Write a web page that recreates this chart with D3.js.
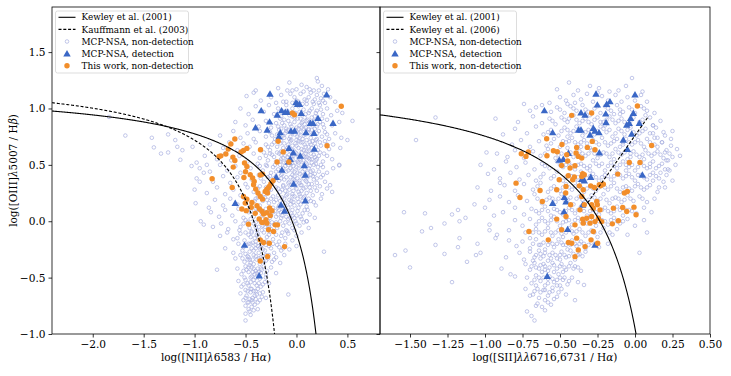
<!DOCTYPE html>
<html>
<head>
<meta charset="utf-8">
<script src="https://d3js.org/d3.v7.min.js"></script>
<style>
    body { margin: 0; background: #fff; }
    svg { display: block; font-family: "DejaVu Serif", serif; }
</style>
</head>
<body>
<div id="chart"></div>
<script>
// ---- data: [x, y] = [log line ratio, log([OIII]/Hb)] ----

// MCP-NSA, non-detection, BPT [NII] panel (outer / sparse part)
const niiMcp = [
    [-0.07,1.23],[0.2,1.27],[0.21,1.24],[0.05,1.21],[-0.18,1.18],[0.17,1.16],[0.31,1.17],[-0.04,1.16],[-0.4,1.16],[-0.42,1.14],[0.1,1.19],[0.25,1.2],
    [-0.49,1.11],[-0.35,1.07],[-0.25,1.1],[-0.15,1.12],[-0.1,1.06],[-0.02,1.1],[0.04,1.13],[0.08,1.08],[0.12,1.1],[0.16,1.06],[0.2,1.12],[0.24,1.09],[0.28,1.05],[0.33,1.1],[0.38,1.06],[-0.2,1.05],[0.0,1.07],[0.14,1.14],[0.22,1.05],[-0.06,1.13],
    [-0.55,1.0],[-0.47,0.95],[-0.4,1.02],[-0.32,0.97],[-0.27,1.03],[-0.22,0.95],[-0.18,1.0],[-0.13,0.97],[-0.1,1.03],[-0.07,0.94],[-0.04,1.0],[-0.01,0.96],[0.02,1.02],[0.05,0.95],[0.07,0.99],[0.1,1.04],[0.12,0.96],[0.15,1.0],[0.18,0.93],[0.2,0.98],[0.23,1.03],[0.26,0.95],[0.3,1.0],[0.34,0.94],[0.4,0.98],[0.45,0.96],[0.08,0.92],[-0.02,0.92],[0.17,1.04],[-0.15,0.93],
    [-0.6,0.88],[-0.5,0.85],[-0.43,0.9],[-0.37,0.84],[-0.3,0.89],[-0.25,0.83],[-0.2,0.87],[-0.16,0.91],[-0.12,0.85],[-0.08,0.89],[-0.05,0.84],[-0.02,0.88],[0.01,0.91],[0.03,0.85],[0.06,0.88],[0.09,0.83],[0.11,0.9],[0.14,0.86],[0.17,0.89],[0.2,0.84],[0.23,0.88],[0.27,0.83],[0.3,0.9],[0.35,0.85],[0.42,0.88],[0.55,0.89],[0.0,0.83],[0.12,0.82],[-0.1,0.82],[0.25,0.91],
    [-0.75,0.76],[-0.62,0.8],[-0.55,0.74],[-0.48,0.78],[-0.42,0.73],[-0.36,0.8],[-0.3,0.75],[-0.26,0.79],[-0.21,0.73],[-0.17,0.81],[-0.13,0.76],[-0.1,0.8],[-0.07,0.73],[-0.04,0.78],[-0.01,0.81],[0.01,0.75],[0.04,0.79],[0.06,0.73],[0.09,0.77],[0.12,0.81],[0.14,0.74],[0.17,0.78],[0.19,0.72],[0.22,0.8],[0.25,0.75],[0.28,0.79],[0.32,0.73],[0.38,0.78],[0.44,0.74],[-0.05,0.72],[0.07,0.82],[0.0,0.72],[-0.15,0.72],
    [-1.84,0.925],[-1.68,0.76],[-1.42,0.74],[-1.4,0.655],[-1.33,0.6],[-1.26,0.61],[-1.26,0.77],[-1.19,0.72],[-1.17,0.66],[-1.12,0.63],[-1.14,0.545],[-1.02,0.66],[-0.98,0.52],[-1.03,0.49],[-0.88,0.5],[-0.91,0.43],[-0.95,0.35],
    [-0.85,0.68],[-0.72,0.65],[-0.66,0.7],[-0.58,0.63],[-0.52,0.69],[-0.46,0.66],[-0.4,0.7],[-0.35,0.64],[-0.3,0.68],[-0.26,0.63],[-0.22,0.7],[-0.19,0.66],[-0.15,0.62],[-0.12,0.69],[-0.09,0.65],[-0.06,0.71],[-0.03,0.63],[0.0,0.67],[0.02,0.71],[0.05,0.64],[0.08,0.68],[0.1,0.62],[0.13,0.7],[0.15,0.65],[0.18,0.69],[0.21,0.63],[0.24,0.67],[0.28,0.71],[0.32,0.64],[0.36,0.68],[0.43,0.65],[-0.04,0.67],[0.06,0.7],[-0.1,0.63],[0.12,0.66],
    [-0.9,0.58],[-0.78,0.55],[-0.7,0.6],[-0.64,0.54],[-0.56,0.58],[-0.48,0.53],[-0.42,0.6],[-0.36,0.56],[-0.32,0.61],[-0.28,0.54],[-0.24,0.59],[-0.2,0.53],[-0.17,0.6],[-0.13,0.56],[-0.1,0.52],[-0.07,0.59],[-0.04,0.55],[-0.01,0.61],[0.01,0.53],[0.04,0.58],[0.07,0.54],[0.09,0.6],[0.12,0.56],[0.15,0.52],[0.17,0.59],[0.2,0.55],[0.23,0.61],[0.26,0.53],[0.3,0.58],[0.35,0.55],[0.42,0.5],[-0.06,0.62],[0.02,0.57],[-0.15,0.55],[0.1,0.57],[-0.22,0.57],
    [-0.95,0.47],[-0.85,0.44],[-0.75,0.5],[-0.68,0.45],[-0.6,0.49],[-0.55,0.43],[-0.45,0.47],[-0.38,0.51],[-0.33,0.45],[-0.29,0.49],[-0.25,0.43],[-0.21,0.5],[-0.18,0.46],[-0.14,0.42],[-0.11,0.49],[-0.08,0.45],[-0.05,0.51],[-0.02,0.44],[0.0,0.48],[0.03,0.42],[0.05,0.5],[0.08,0.46],[0.11,0.43],[0.13,0.49],[0.16,0.45],[0.19,0.51],[0.22,0.44],[0.26,0.48],[0.3,0.43],[0.36,0.47],[-0.12,0.52],[0.02,0.52],[-0.06,0.47],[0.1,0.51],[-0.2,0.44],
    [-0.98,0.38],[-0.82,0.35],[-0.72,0.4],[-0.65,0.34],[-0.58,0.39],[-0.5,0.33],[-0.44,0.37],[-0.37,0.41],[-0.32,0.35],[-0.28,0.39],[-0.24,0.33],[-0.2,0.4],[-0.17,0.36],[-0.13,0.32],[-0.1,0.39],[-0.07,0.35],[-0.04,0.41],[-0.01,0.34],[0.01,0.38],[0.04,0.32],[0.06,0.4],[0.09,0.36],[0.12,0.33],[0.14,0.41],[0.17,0.37],[0.2,0.34],[0.24,0.39],[0.28,0.35],[0.33,0.32],[0.35,0.26],[-0.15,0.41],[-0.03,0.37],[0.08,0.41],[-0.22,0.36],
    [-1.0,0.28],[-0.88,0.25],[-0.78,0.3],[-0.7,0.24],[-0.62,0.28],[-0.55,0.23],[-0.48,0.3],[-0.42,0.26],[-0.36,0.31],[-0.32,0.24],[-0.27,0.28],[-0.23,0.22],[-0.2,0.3],[-0.16,0.26],[-0.13,0.31],[-0.1,0.23],[-0.07,0.28],[-0.04,0.24],[-0.01,0.31],[0.02,0.26],[0.04,0.22],[0.07,0.29],[0.1,0.25],[0.13,0.3],[0.16,0.23],[0.2,0.27],[0.25,0.24],[0.3,0.29],[-0.11,0.27],[-0.05,0.32],[0.05,0.32],[-0.18,0.23],
    [-0.99,0.16],[-0.86,0.12],[-0.8,0.19],[-0.72,0.14],[-0.65,0.2],[-0.58,0.15],[-0.52,0.21],[-0.46,0.13],[-0.41,0.18],[-0.36,0.14],[-0.31,0.21],[-0.27,0.16],[-0.23,0.12],[-0.2,0.19],[-0.17,0.14],[-0.14,0.21],[-0.11,0.16],[-0.08,0.12],[-0.05,0.18],[-0.02,0.14],[0.01,0.2],[0.04,0.15],[0.07,0.21],[0.1,0.13],[0.14,0.18],[0.19,0.14],[0.24,0.2],[-0.25,0.2],[-0.13,0.12],[-0.04,0.22],[-0.38,0.21],
    [-0.94,0.0],[-0.91,-0.03],[-0.84,0.08],[-0.76,0.04],[-0.7,0.1],[-0.63,0.05],[-0.57,0.11],[-0.52,0.03],[-0.47,0.08],[-0.42,0.04],[-0.38,0.1],[-0.34,0.06],[-0.3,0.11],[-0.26,0.03],[-0.23,0.08],[-0.2,0.04],[-0.17,0.1],[-0.14,0.05],[-0.11,0.11],[-0.08,0.02],[-0.05,0.07],[-0.02,0.03],[0.01,0.09],[0.04,0.04],[0.08,0.1],[0.1,0.0],[0.13,0.06],[0.18,0.03],[-0.28,0.07],[-0.12,0.08],[-0.44,0.12],
    [-0.82,-0.05],[-0.74,-0.02],[-0.67,-0.07],[-0.6,0.0],[-0.55,-0.05],[-0.5,0.01],[-0.46,-0.06],[-0.42,-0.02],[-0.39,-0.08],[-0.35,-0.01],[-0.31,-0.05],[-0.28,0.0],[-0.25,-0.07],[-0.22,-0.03],[-0.19,-0.06],[-0.16,0.0],[-0.13,-0.04],[-0.1,-0.08],[-0.07,-0.02],[-0.04,-0.06],[-0.01,0.0],[0.03,-0.04],[0.07,-0.01],[0.12,-0.06],[-0.37,-0.05],[-0.24,-0.01],[-0.48,-0.01],
    [-0.75,-0.13],[-0.68,-0.1],[-0.62,-0.16],[-0.58,-0.15],[-0.55,-0.11],[-0.51,-0.17],[-0.47,-0.12],[-0.44,-0.09],[-0.41,-0.15],[-0.38,-0.11],[-0.35,-0.17],[-0.32,-0.1],[-0.29,-0.14],[-0.26,-0.09],[-0.23,-0.16],[-0.2,-0.12],[-0.17,-0.18],[-0.14,-0.1],[-0.11,-0.15],[-0.08,-0.11],[-0.04,-0.17],[0.0,-0.13],[0.05,-0.1],[-0.4,-0.18],[-0.3,-0.18],
    [-0.7,-0.24],[-0.62,-0.28],[-0.57,-0.2],[-0.53,-0.26],[-0.49,-0.21],[-0.46,-0.27],[-0.43,-0.19],[-0.4,-0.24],[-0.37,-0.28],[-0.34,-0.21],[-0.31,-0.26],[-0.28,-0.19],[-0.25,-0.24],[-0.22,-0.28],[-0.19,-0.21],[-0.15,-0.26],[-0.11,-0.2],[-0.07,-0.25],[0.0,-0.22],[0.27,-0.27],[-0.44,-0.24],[-0.36,-0.24],
    [-0.6,-0.33],[-0.55,-0.3],[-0.51,-0.36],[-0.48,-0.31],[-0.45,-0.37],[-0.42,-0.3],[-0.39,-0.34],[-0.36,-0.38],[-0.33,-0.31],[-0.3,-0.35],[-0.27,-0.3],[-0.24,-0.36],[-0.2,-0.32],[-0.16,-0.37],[-0.12,-0.3],[-0.42,-0.38],[-0.48,-0.34],
    [-0.78,-0.43],[-0.58,-0.42],[-0.54,-0.47],[-0.5,-0.4],[-0.47,-0.45],[-0.44,-0.41],[-0.41,-0.47],[-0.38,-0.42],[-0.35,-0.46],[-0.32,-0.4],[-0.29,-0.44],[-0.25,-0.41],[-0.2,-0.46],[-0.46,-0.39],[-0.4,-0.44],
    [-0.57,-0.53],[-0.54,-0.58],[-0.51,-0.5],[-0.48,-0.55],[-0.45,-0.6],[-0.42,-0.52],[-0.39,-0.57],[-0.36,-0.51],[-0.33,-0.56],[-0.3,-0.5],[-0.27,-0.55],[-0.08,-0.65],[-0.44,-0.49],[-0.38,-0.6],
    [-0.55,-0.64],[-0.52,-0.7],[-0.49,-0.66],[-0.47,-0.72],[-0.45,-0.63],[-0.43,-0.68],[-0.41,-0.74],[-0.39,-0.65],[-0.36,-0.7],[-0.33,-0.63],[-0.3,-0.68],[-0.5,-0.75],[-0.44,-0.76],
    [-0.5,-0.82],[-0.46,-0.8],[-0.45,-0.83],[-0.5,-0.88],[-0.42,-0.79],[-0.38,-0.78],
    [0.42,0.495],[0.1,0.0],[0.5,0.72]
];

// MCP-NSA, non-detection, [NII] panel (dense core)
const niiMcpCore = [
    [-0.02,0.96],[0.03,0.97],[0.09,0.95],[0.13,0.98],[0.19,0.96],[-0.09,0.98],[0.24,0.99],
    [-0.14,0.87],[-0.06,0.86],[0.05,0.87],[0.08,0.86],[0.13,0.88],[0.16,0.85],[0.21,0.86],[-0.18,0.84],[0.26,0.86],
    [-0.19,0.77],[-0.11,0.78],[-0.02,0.77],[0.02,0.78],[0.07,0.76],[0.11,0.79],[0.15,0.77],[0.2,0.78],[-0.24,0.76],[0.3,0.77],
    [-0.24,0.68],[-0.16,0.69],[-0.08,0.68],[-0.01,0.69],[0.04,0.7],[0.09,0.66],[0.14,0.68],[0.19,0.66],[0.23,0.7],[-0.28,0.66],[0.3,0.68],
    [-0.26,0.6],[-0.19,0.61],[-0.15,0.59],[-0.09,0.57],[-0.03,0.58],[0.0,0.6],[0.05,0.61],[0.08,0.57],[0.14,0.6],[0.18,0.57],[0.22,0.58],[0.27,0.6],[-0.3,0.58],
    [-0.3,0.5],[-0.23,0.48],[-0.16,0.5],[-0.13,0.47],[-0.08,0.5],[-0.03,0.49],[0.02,0.47],[0.07,0.49],[0.12,0.47],[0.17,0.5],[0.21,0.48],[0.24,0.5],[-0.36,0.49],
    [-0.35,0.38],[-0.26,0.4],[-0.22,0.38],[-0.15,0.38],[-0.12,0.37],[-0.06,0.39],[-0.02,0.4],[0.03,0.36],[0.07,0.38],[0.11,0.39],[0.16,0.4],[0.2,0.38],[0.26,0.41],
    [-0.38,0.29],[-0.3,0.3],[-0.25,0.28],[-0.18,0.29],[-0.14,0.28],[-0.09,0.3],[-0.03,0.27],[0.0,0.29],[0.05,0.27],[0.09,0.3],[0.14,0.27],[0.18,0.3],[0.23,0.31],
    [-0.4,0.2],[-0.33,0.18],[-0.29,0.19],[-0.22,0.17],[-0.16,0.18],[-0.12,0.2],[-0.07,0.19],[-0.03,0.17],[0.02,0.17],[0.06,0.18],[0.12,0.2],[0.17,0.17],
    [-0.45,0.09],[-0.4,0.11],[-0.33,0.09],[-0.26,0.1],[-0.21,0.09],[-0.15,0.08],[-0.09,0.09],[-0.04,0.1],[0.0,0.05],[0.06,0.07],[0.11,0.1],
    [-0.52,-0.02],[-0.45,0.02],[-0.4,-0.01],[-0.33,0.02],[-0.27,-0.03],[-0.2,-0.01],[-0.15,0.03],[-0.11,-0.01],[-0.06,0.03],[0.0,-0.02],[0.05,0.02],
    [-0.56,-0.08],[-0.5,-0.1],[-0.45,-0.14],[-0.39,-0.12],[-0.34,-0.08],[-0.27,-0.12],[-0.22,-0.09],[-0.15,-0.13],[-0.09,-0.09],[-0.02,-0.08],
    [-0.52,-0.23],[-0.47,-0.2],[-0.42,-0.26],[-0.38,-0.22],[-0.33,-0.25],[-0.27,-0.22],[-0.23,-0.2],[-0.17,-0.23],[-0.13,-0.24],
    [-0.53,-0.33],[-0.46,-0.34],[-0.4,-0.31],[-0.37,-0.33],[-0.32,-0.36],[-0.28,-0.33],[-0.22,-0.34],[-0.5,-0.29],
    [-0.52,-0.44],[-0.49,-0.43],[-0.43,-0.45],[-0.37,-0.45],[-0.34,-0.43],[-0.3,-0.47],[-0.45,-0.5],
    [-0.52,-0.56],[-0.47,-0.57],[-0.41,-0.55],[-0.35,-0.58],[-0.31,-0.54],[-0.5,-0.61],[-0.42,-0.62],
    [-0.5,-0.68],[-0.46,-0.69],[-0.41,-0.66],[-0.38,-0.72],[-0.34,-0.67],[-0.47,-0.78],[-0.43,-0.72],
    [-0.13,1.06],[-0.04,1.05],[0.02,1.06],[0.06,1.04],[0.1,1.07],[0.18,1.08],[0.26,1.07],
    [-0.09,1.16],[0.0,1.17],[0.07,1.15],[0.13,1.17],[0.22,1.16],[0.27,1.13],
    [-0.12,0.9],[-0.04,0.93],[0.04,0.91],[0.1,0.89],[0.15,0.92],
    [-0.15,0.82],[-0.08,0.81],[0.02,0.82],[0.05,0.83],[0.15,0.81],[0.18,0.82],
    [-0.12,0.74],[-0.06,0.75],[0.03,0.74],[0.1,0.72],[0.16,0.71],[0.2,0.73],
    [-0.13,0.65],[-0.06,0.64],[0.02,0.65],[0.07,0.63],[0.12,0.62],[0.17,0.63],
    [-0.11,0.58],[-0.05,0.57],[0.03,0.55],[0.07,0.58],[0.13,0.55],[0.19,0.54],
    [-0.16,0.53],[-0.09,0.54],[-0.01,0.52],[0.04,0.54],[0.09,0.52],[0.15,0.55],
    [-0.1,0.44],[-0.04,0.45],[0.01,0.43],[0.06,0.44],[0.14,0.44],[0.18,0.42],
    [-0.08,0.34],[-0.02,0.36],[0.03,0.34],[0.1,0.35],[0.15,0.33],
    [-0.09,0.24],[-0.02,0.22],[0.03,0.24],[0.08,0.22],
    [-0.18,0.12],[-0.12,0.14],[-0.06,0.15],[0.02,0.12],
    [-0.25,0.05],[-0.18,0.06],[-0.1,0.04],[-0.04,0.05],
    [-0.45,-0.2],[-0.4,-0.21],[-0.35,-0.23],[-0.3,-0.21],
    [-0.47,-0.32],[-0.43,-0.34],[-0.35,-0.32],[-0.3,-0.3],
    [-0.47,-0.41],[-0.42,-0.42],[-0.39,-0.46],[-0.35,-0.42],
    [-0.5,-0.52],[-0.45,-0.54],[-0.4,-0.5],[-0.37,-0.55],
    [-0.48,-0.62],[-0.44,-0.6],[-0.4,-0.62],[-0.36,-0.64],
    [-0.48,-0.72],[-0.44,-0.7],[-0.4,-0.69],
    [-0.4,-0.05],[-0.33,-0.04],[-0.27,-0.05],[-0.44,-0.1],[-0.37,-0.14]
];

// MCP-NSA, detection, [NII] panel
const niiDet = [
    [-0.26,1.13],[-0.346,0.983],[-0.146,0.983],[-0.402,0.832],[-0.264,0.883],[-0.287,0.812],[-0.189,0.945],[-0.11,0.969],[-0.087,0.969],
    [-0.005,1.054],[0.011,1.04],[0.03,1.04],[0.047,0.96],[0.296,1.123],[0.211,0.916],[0.136,0.871],[0.162,0.871],[0.359,0.871],
    [0.093,0.788],[0.172,0.782],[-0.159,0.788],[-0.172,0.752],[-0.054,0.803],[-0.019,0.803],[-0.074,0.649],[-0.031,0.61],[0.175,0.643],
    [0.037,0.581],[-0.061,0.551],[-0.078,0.53],[0.077,0.495],[-0.143,0.456],[-0.199,0.392],[0.087,0.412],[-0.028,0.332],
    [0.087,0.184],[-0.152,0.146],[-0.117,0.092],[-0.601,0.161],[-0.51,-0.21],[-0.366,-0.482]
];

// This work, non-detection, [NII] panel
const niiThis = [
    [0.44,1.02],[-0.04,0.96],[-0.02,0.945],[0.30,0.67],[-0.18,0.71],[-0.13,0.615],[-0.075,0.525],[-0.19,0.525],
    [-0.605,0.73],[-0.644,0.685],[-0.67,0.64],[-0.693,0.596],[-0.742,0.58],[-0.76,0.575],
    [-0.487,0.646],[-0.52,0.628],[-0.543,0.614],[-0.353,0.634],
    [-0.624,0.569],[-0.605,0.539],[-0.621,0.48],[-0.51,0.516],[-0.487,0.486],[-0.50,0.439],[-0.516,0.388],
    [-0.454,0.412],[-0.43,0.383],[-0.415,0.352],[-0.356,0.41],[-0.333,0.418],
    [-0.828,0.377],[-0.631,0.30],[-0.277,0.294],[-0.251,0.332],[-0.231,0.359],
    [-0.421,0.323],[-0.40,0.285],[-0.378,0.25],[-0.356,0.219],[-0.333,0.196],
    [-0.267,0.308],[-0.29,0.285],[-0.307,0.264],[-0.284,0.25],
    [-0.52,0.219],[-0.487,0.196],[-0.503,0.161],
    [-0.437,0.167],[-0.444,0.123],[-0.388,0.138],[-0.363,0.109],[-0.339,0.088],[-0.323,0.064],[-0.29,0.076],[-0.264,0.118],
    [-0.241,0.094],[-0.257,0.05],[-0.30,0.014],[-0.339,-0.01],[-0.366,0.02],[-0.405,0.07],[-0.536,0.109],[-0.493,0.094],
    [-0.471,-0.026],[-0.333,-0.012],[-0.29,-0.017],[-0.274,-0.076],[-0.225,-0.091],[-0.186,-0.032],[-0.208,-0.032],
    [-0.117,-0.225],[-0.356,-0.165],[-0.323,-0.189],[-0.267,-0.195],[-0.284,-0.313],[-0.356,-0.352]
];

// MCP-NSA, non-detection, [SII] panel (outer / sparse part)
const siiMcp = [
    [-0.44,1.23],[-0.02,1.27],[-0.17,1.15],[-0.11,1.16],[-0.3,1.2],[-0.52,1.17],[-0.38,1.16],[-0.24,1.18],[-0.06,1.2],[0.05,1.15],
    [-0.74,1.04],[-0.66,1.01],[-0.57,1.05],[-0.5,1.1],[-0.46,1.07],[-0.41,1.12],[-0.36,1.08],[-0.32,1.13],[-0.28,1.06],[-0.22,1.11],[-0.18,1.07],[-0.13,1.12],[-0.09,1.06],[-0.05,1.1],[0.0,1.07],[0.04,1.12],[0.08,1.06],[-0.25,1.14],[-0.4,1.05],
    [-0.7,0.98],[-0.62,1.03],[-0.56,0.97],[-0.52,1.01],[-0.47,0.96],[-0.43,1.02],[-0.39,0.98],[-0.35,1.03],[-0.31,0.97],[-0.27,1.0],[-0.23,0.96],[-0.2,1.02],[-0.16,0.98],[-0.12,1.03],[-0.08,0.97],[-0.04,1.01],[0.0,0.96],[0.04,1.02],[0.08,0.98],[0.13,0.96],[-0.45,1.04],[-0.14,0.95],
    [-0.93,0.91],[-1.33,0.92],[-0.78,0.88],[-0.68,0.93],[-0.62,0.87],[-0.57,0.91],[-0.53,0.86],[-0.49,0.92],[-0.45,0.88],[-0.41,0.94],[-0.37,0.87],[-0.33,0.91],[-0.29,0.86],[-0.25,0.92],[-0.21,0.88],[-0.17,0.93],[-0.13,0.87],[-0.09,0.91],[-0.05,0.86],[-0.01,0.92],[0.03,0.88],[0.07,0.94],[0.12,0.85],[0.17,0.89],[-0.3,0.94],[-0.1,0.95],
    [-0.88,0.77],[-0.8,0.82],[-0.72,0.78],[-0.66,0.84],[-0.61,0.77],[-0.56,0.81],[-0.51,0.76],[-0.47,0.83],[-0.43,0.78],[-0.39,0.84],[-0.35,0.76],[-0.31,0.81],[-0.27,0.77],[-0.23,0.84],[-0.19,0.79],[-0.15,0.75],[-0.11,0.82],[-0.07,0.77],[-0.03,0.83],[0.01,0.76],[0.05,0.8],[0.1,0.78],[0.14,0.83],[0.2,0.76],[0.25,0.8],[-0.45,0.75],[-0.2,0.85],
    [-1.46,0.72],[-0.82,0.68],[-0.76,0.72],[-0.7,0.66],[-0.64,0.71],[-0.59,0.67],[-0.54,0.73],[-0.5,0.66],[-0.46,0.7],[-0.42,0.74],[-0.38,0.68],[-0.34,0.72],[-0.3,0.65],[-0.26,0.7],[-0.22,0.74],[-0.18,0.67],[-0.14,0.71],[-0.1,0.66],[-0.06,0.73],[-0.02,0.68],[0.02,0.72],[0.06,0.66],[0.1,0.7],[0.15,0.74],[0.18,0.7],[0.24,0.67],[-0.36,0.66],[-0.08,0.7],
    [-0.99,0.61],[-0.92,0.6],[-0.85,0.57],[-0.8,0.63],[-0.74,0.56],[-0.68,0.62],[-0.63,0.58],[-0.58,0.64],[-0.53,0.56],[-0.49,0.6],[-0.45,0.65],[-0.41,0.57],[-0.37,0.62],[-0.33,0.58],[-0.29,0.63],[-0.25,0.56],[-0.21,0.61],[-0.17,0.57],[-0.13,0.64],[-0.09,0.59],[-0.05,0.55],[-0.01,0.62],[0.03,0.57],[0.07,0.63],[0.11,0.58],[0.15,0.62],[0.19,0.56],[0.23,0.6],[0.3,0.58],[-0.27,0.6],[-0.03,0.6],
    [-1.03,0.5],[-0.94,0.46],[-0.86,0.53],[-0.79,0.48],[-0.73,0.52],[-0.67,0.46],[-0.62,0.51],[-0.57,0.47],[-0.52,0.53],[-0.48,0.48],[-0.44,0.52],[-0.4,0.46],[-0.36,0.51],[-0.32,0.47],[-0.28,0.54],[-0.24,0.49],[-0.2,0.45],[-0.16,0.52],[-0.12,0.47],[-0.08,0.53],[-0.04,0.48],[0.0,0.45],[0.04,0.52],[0.08,0.47],[0.12,0.53],[0.16,0.49],[0.2,0.46],[0.22,0.54],[0.27,0.5],[-0.14,0.55],[0.06,0.55],
    [-0.98,0.42],[-0.9,0.38],[-0.83,0.43],[-0.77,0.37],[-0.71,0.41],[-0.66,0.36],[-0.61,0.42],[-0.56,0.38],[-0.52,0.44],[-0.48,0.36],[-0.44,0.41],[-0.4,0.37],[-0.36,0.44],[-0.32,0.38],[-0.28,0.42],[-0.24,0.36],[-0.2,0.41],[-0.16,0.37],[-0.12,0.43],[-0.08,0.38],[-0.04,0.42],[0.0,0.36],[0.04,0.41],[0.08,0.37],[0.12,0.43],[0.16,0.38],[0.21,0.41],[0.25,0.36],[-0.3,0.45],[-0.06,0.45],
    [-1.05,0.3],[-0.96,0.27],[-0.87,0.32],[-0.8,0.27],[-0.74,0.33],[-0.68,0.28],[-0.63,0.34],[-0.58,0.26],[-0.54,0.31],[-0.5,0.27],[-0.46,0.33],[-0.42,0.28],[-0.38,0.34],[-0.34,0.26],[-0.3,0.31],[-0.26,0.27],[-0.22,0.33],[-0.18,0.28],[-0.14,0.34],[-0.1,0.26],[-0.06,0.31],[-0.02,0.27],[0.02,0.33],[0.06,0.28],[0.1,0.32],[0.15,0.26],[0.2,0.3],[-0.9,0.34],
    [-1.07,0.15],[-0.9,0.22],[-0.84,0.17],[-0.78,0.23],[-0.72,0.18],[-0.67,0.24],[-0.62,0.16],[-0.57,0.21],[-0.53,0.17],[-0.49,0.24],[-0.45,0.19],[-0.41,0.15],[-0.37,0.22],[-0.33,0.17],[-0.29,0.23],[-0.25,0.18],[-0.21,0.24],[-0.17,0.16],[-0.13,0.21],[-0.09,0.17],[-0.05,0.23],[-0.01,0.18],[0.03,0.22],[0.08,0.17],[0.13,0.2],[-0.97,0.19],
    [-1.54,0.08],[-1.4,0.07],[-1.22,0.06],[-1.18,0.1],[-1.0,0.12],[-0.88,0.08],[-0.8,0.12],[-0.74,0.06],[-0.69,0.11],[-0.64,0.07],[-0.6,0.13],[-0.56,0.05],[-0.52,0.1],[-0.48,0.06],[-0.44,0.12],[-0.4,0.07],[-0.36,0.13],[-0.32,0.05],[-0.28,0.1],[-0.24,0.06],[-0.2,0.12],[-0.16,0.07],[-0.12,0.13],[-0.08,0.05],[-0.04,0.1],[0.01,0.07],[0.06,0.12],[0.11,0.08],[-0.94,0.05],
    [-1.27,-0.02],[-1.17,0.0],[-1.13,0.03],[-0.97,-0.03],[-0.8,0.01],[-0.75,-0.04],[-0.7,0.02],[-0.66,-0.03],[-0.62,0.03],[-0.58,-0.02],[-0.54,0.04],[-0.5,-0.04],[-0.46,0.0],[-0.42,-0.03],[-0.38,0.03],[-0.34,-0.01],[-0.3,0.04],[-0.26,-0.04],[-0.22,0.01],[-0.18,-0.03],[-0.14,0.03],[-0.1,-0.02],[-0.05,0.02],[0.0,-0.04],[0.06,0.01],
    [-1.36,-0.06],[-1.42,-0.09],[-0.97,-0.08],[-0.84,-0.08],[-0.93,-0.15],[-0.92,-0.12],[-0.73,-0.1],[-0.7,-0.15],[-0.66,-0.07],[-0.62,-0.12],[-0.58,-0.06],[-0.55,-0.13],[-0.51,-0.08],[-0.48,-0.14],[-0.44,-0.06],[-0.41,-0.11],[-0.37,-0.07],[-0.33,-0.13],[-0.29,-0.08],[-0.25,-0.14],[-0.21,-0.06],[-0.17,-0.1],[-0.12,-0.07],[-0.05,-0.12],[0.08,-0.1],
    [-1.33,-0.21],[-1.17,-0.15],[-1.18,-0.23],[-1.05,-0.2],[-0.84,-0.17],[-0.79,-0.22],[-0.75,-0.18],[-0.7,-0.24],[-0.66,-0.16],[-0.63,-0.21],[-0.6,-0.25],[-0.57,-0.18],[-0.54,-0.23],[-0.51,-0.16],[-0.48,-0.21],[-0.45,-0.25],[-0.42,-0.17],[-0.39,-0.22],[-0.36,-0.18],[-0.33,-0.24],[-0.29,-0.19],[-0.24,-0.23],[-0.18,-0.2],
    [-1.6,-0.3],[-1.27,-0.29],[-1.06,-0.3],[-1.03,-0.28],[-0.86,-0.32],[-0.77,-0.28],[-0.74,-0.34],[-0.7,-0.27],[-0.67,-0.32],[-0.64,-0.26],[-0.61,-0.31],[-0.58,-0.35],[-0.55,-0.28],[-0.52,-0.33],[-0.49,-0.27],[-0.46,-0.32],[-0.43,-0.26],[-0.4,-0.34],[-0.37,-0.29],[-0.33,-0.27],[-0.68,-0.35],[-1.12,-0.36],
    [-1.53,-0.26],[-1.5,-0.41],[-0.89,-0.42],[-0.73,-0.38],[-0.7,-0.43],[-0.67,-0.37],[-0.64,-0.42],[-0.61,-0.38],[-0.58,-0.44],[-0.55,-0.37],[-0.52,-0.42],[-0.49,-0.38],[-0.46,-0.43],[-0.43,-0.37],[-0.4,-0.4],[-0.36,-0.44],[-0.62,-0.45],
    [-1.22,-0.54],[-0.83,-0.47],[-0.8,-0.49],[-0.72,-0.5],[-0.69,-0.55],[-0.66,-0.48],[-0.63,-0.53],[-0.6,-0.57],[-0.57,-0.49],[-0.54,-0.54],[-0.51,-0.47],[-0.48,-0.52],[-0.45,-0.56],[-0.42,-0.5],[-0.38,-0.54],[-0.66,-0.57],[-0.34,-0.565],
    [-0.73,-0.6],[-0.7,-0.66],[-0.67,-0.62],[-0.64,-0.68],[-0.61,-0.61],[-0.58,-0.66],[-0.55,-0.62],[-0.52,-0.67],[-0.49,-0.6],[-0.46,-0.65],[-0.4,-0.7],
    [-0.72,-0.8],[-0.67,-0.88],[-0.6,-0.79],[-0.65,-0.73],[-0.62,-0.76],[-0.56,-0.74],[-0.69,-0.84],[-0.58,-0.72],
    [0.22,0.46],[0.21,0.54],[0.18,0.7],[0.12,0.85],[0.03,-0.28]
];

// MCP-NSA, non-detection, [SII] panel (dense core)
const siiMcpCore = [
    [-0.5,0.99],[-0.41,1.0],[-0.33,0.99],[-0.25,1.02],[-0.18,1.0],[-0.1,0.99],[-0.02,0.99],[0.06,1.0],
    [-0.55,0.89],[-0.47,0.9],[-0.39,0.9],[-0.31,0.88],[-0.27,0.9],[-0.19,0.9],[-0.11,0.89],[-0.03,0.89],[0.05,0.9],[0.1,0.92],
    [-0.58,0.79],[-0.49,0.8],[-0.41,0.8],[-0.33,0.79],[-0.25,0.8],[-0.17,0.81],[-0.09,0.8],[-0.01,0.79],[0.07,0.82],[0.12,0.78],
    [-0.56,0.69],[-0.48,0.71],[-0.4,0.7],[-0.32,0.69],[-0.24,0.68],[-0.16,0.69],[-0.12,0.73],[-0.04,0.7],[0.04,0.69],[0.08,0.73],[0.13,0.68],
    [-0.6,0.6],[-0.51,0.59],[-0.43,0.61],[-0.35,0.6],[-0.23,0.59],[-0.15,0.6],[-0.07,0.61],[0.01,0.59],[0.09,0.6],[0.17,0.59],[0.21,0.63],
    [-0.6,0.49],[-0.5,0.5],[-0.42,0.49],[-0.34,0.49],[-0.26,0.51],[-0.18,0.49],[-0.1,0.5],[-0.02,0.5],[0.06,0.49],[0.1,0.51],[0.14,0.47],[0.18,0.51],
    [-0.63,0.39],[-0.54,0.4],[-0.46,0.39],[-0.38,0.39],[-0.3,0.4],[-0.22,0.39],[-0.14,0.4],[-0.1,0.41],[-0.02,0.39],[0.06,0.39],[0.1,0.41],[0.14,0.4],
    [-0.65,0.31],[-0.56,0.29],[-0.48,0.3],[-0.4,0.31],[-0.32,0.29],[-0.24,0.3],[-0.16,0.31],[-0.12,0.29],[-0.04,0.29],[0.04,0.3],[0.08,0.3],
    [-0.65,0.2],[-0.59,0.19],[-0.51,0.2],[-0.43,0.21],[-0.35,0.19],[-0.27,0.21],[-0.19,0.19],[-0.11,0.2],[-0.03,0.2],[0.05,0.2],
    [-0.66,0.09],[-0.58,0.09],[-0.5,0.08],[-0.42,0.1],[-0.34,0.09],[-0.26,0.08],[-0.18,0.09],[-0.1,0.1],[-0.02,0.09],
    [-0.64,0.0],[-0.56,0.01],[-0.48,-0.01],[-0.4,0.01],[-0.32,-0.02],[-0.24,0.0],[-0.16,0.01],[-0.08,0.0],
    [-0.68,-0.1],[-0.6,-0.09],[-0.53,-0.1],[-0.46,-0.1],[-0.39,-0.09],[-0.31,-0.1],[-0.23,-0.1],[-0.15,-0.12],
    [-0.68,-0.2],[-0.61,-0.19],[-0.55,-0.2],[-0.49,-0.19],[-0.43,-0.21],[-0.37,-0.2],[-0.31,-0.21],
    [-0.66,-0.3],[-0.6,-0.28],[-0.53,-0.3],[-0.47,-0.3],[-0.41,-0.29],[-0.35,-0.31],[-0.63,-0.33],[-0.56,-0.33],[-0.5,-0.34],
    [-0.69,-0.4],[-0.63,-0.39],[-0.57,-0.41],[-0.5,-0.4],[-0.44,-0.4],[-0.38,-0.41],[-0.6,-0.43],[-0.54,-0.45],[-0.48,-0.45],
    [-0.67,-0.52],[-0.61,-0.5],[-0.55,-0.51],[-0.5,-0.5],[-0.44,-0.53],[-0.58,-0.55],[-0.52,-0.57],
    [-0.68,-0.65],[-0.63,-0.63],[-0.57,-0.63],[-0.51,-0.63],[-0.6,-0.7],[-0.54,-0.69],[-0.66,-0.75],
    [0.15,0.66],[0.2,0.61],[0.25,0.57],[0.28,0.64],[0.24,0.73],[0.19,0.79],[0.13,0.74],[0.23,0.45],[0.17,0.43],[0.19,0.35],[0.12,0.36],[0.16,0.3],
    [-0.44,0.91],[-0.35,0.89],[-0.23,0.88],[-0.15,0.9],[-0.07,0.88],
    [-0.45,0.81],[-0.37,0.82],[-0.29,0.79],[-0.21,0.82],[-0.13,0.78],[-0.05,0.81],[0.03,0.78],
    [-0.44,0.71],[-0.36,0.7],[-0.28,0.72],[-0.2,0.7],[-0.08,0.68],[0.0,0.7],
    [-0.39,0.6],[-0.31,0.6],[-0.19,0.6],[-0.11,0.61],[-0.03,0.57],[0.05,0.59],[0.13,0.6],
    [-0.46,0.5],[-0.38,0.5],[-0.3,0.49],[-0.22,0.51],[-0.14,0.49],[-0.06,0.5],[0.02,0.48],[0.1,0.48],
    [-0.42,0.4],[-0.34,0.41],[-0.26,0.39],[-0.18,0.4],[-0.06,0.4],[0.02,0.41],
    [-0.44,0.3],[-0.36,0.3],[-0.28,0.29],[-0.2,0.3],[-0.08,0.3],[0.0,0.31],
    [-0.55,0.2],[-0.47,0.19],[-0.39,0.2],[-0.31,0.19],[-0.23,0.2],[-0.15,0.2],[-0.07,0.19],
    [-0.62,0.1],[-0.54,0.11],[-0.46,0.09],[-0.38,0.1],[-0.3,0.09],[-0.22,0.1],[-0.14,0.09],[-0.06,0.1],
    [-0.6,0.0],[-0.52,0.0],[-0.44,0.01],[-0.36,0.0],[-0.28,0.01],[-0.2,0.0],[-0.12,0.0],
    [-0.64,-0.1],[-0.56,-0.1],[-0.49,-0.11],[-0.42,-0.09],[-0.35,-0.1],[-0.27,-0.1],
    [-0.64,-0.21],[-0.58,-0.21],[-0.52,-0.2],[-0.46,-0.21],[-0.4,-0.2],[-0.34,-0.2],
    [-0.63,-0.29],[-0.57,-0.3],[-0.5,-0.3],[-0.44,-0.31],[-0.38,-0.3],
    [-0.66,-0.41],[-0.6,-0.4],[-0.54,-0.39],[-0.47,-0.41],[-0.41,-0.42],
    [-0.64,-0.5],[-0.58,-0.51],[-0.52,-0.52],[-0.47,-0.5],
    [-0.65,-0.6],[-0.6,-0.61],[-0.55,-0.59],[-0.5,-0.57]
];

// MCP-NSA, detection, [SII] panel
const siiDet = [
    [-0.604,0.983],[-0.549,0.788],[-0.26,1.131],[0.0,1.123],[-0.251,1.034],[-0.189,1.04],[-0.167,1.063],[-0.36,0.965],[-0.333,0.945],
    [-0.195,0.954],[-0.193,0.877],[-0.029,0.916],[-0.011,0.96],[-0.038,0.871],[-0.055,0.856],[0.029,0.871],[-0.376,0.812],[-0.36,0.812],
    [-0.278,0.827],[-0.267,0.803],[-0.24,0.788],[-0.3,0.767],[-0.022,0.776],[-0.444,0.605],[-0.238,0.61],[-0.051,0.64],[0.049,0.412],
    [-0.505,0.545],[-0.478,0.551],[-0.355,0.374],[-0.338,0.361],[-0.549,0.161],[-0.471,0.214],[-0.46,0.175],[-0.473,0.086],
    [-0.449,-0.07],[-0.349,0.146],[-0.295,0.392],[-0.267,-0.21],[-0.585,-0.485],[-0.078,0.723]
];

// This work, non-detection, [SII] panel
const siiThis = [
    [0.016,1.022],[0.111,0.672],[-0.422,0.939],[-0.289,0.96],[-0.589,0.732],[-0.487,0.681],[-0.389,0.655],[-0.318,0.655],[-0.285,0.708],
    [-0.544,0.625],[-0.518,0.616],[-0.587,0.581],[-0.758,0.599],[-0.711,0.614],[-0.727,0.575],[-0.455,0.59],[-0.393,0.605],[-0.378,0.575],
    [-0.355,0.56],[-0.038,0.521],[0.033,0.521],[-0.115,0.418],[-0.489,0.495],[-0.449,0.534],[-0.433,0.472],[-0.4,0.492],[-0.349,0.421],
    [-0.355,0.397],[-0.415,0.368],[-0.445,0.403],[-0.505,0.368],[-0.793,0.338],[-0.271,0.299],[-0.211,0.329],[-0.267,0.634],[-0.238,0.323],
    [-0.767,0.211],[-0.633,0.273],[-0.618,0.175],[-0.522,0.279],[-0.46,0.308],[-0.462,0.25],[-0.404,0.392],[-0.429,0.146],[-0.371,0.314],
    [-0.345,0.279],[-0.355,0.219],[-0.338,0.146],[-0.367,0.101],[-0.289,0.146],[-0.278,0.116],[-0.251,0.146],[-0.233,0.101],[-0.289,0.042],
    [-0.322,0.027],[-0.349,0.018],[-0.3,-0.017],[-0.345,-0.017],[-0.244,0.027],[-0.222,-0.003],[-0.267,-0.003],[-0.46,0.042],[-0.522,0.019],
    [-0.489,-0.076],[-0.578,-0.165],[-0.707,-0.091],[-0.4,-0.032],[-0.389,-0.15],[-0.444,-0.189],[-0.422,-0.195],[-0.378,-0.254],[-0.333,-0.225],
    [-0.293,-0.165],[-0.249,-0.195],[-0.278,-0.091],[-0.4,-0.314],[-0.151,-0.023],[-0.111,0.004],[-0.144,0.116],[-0.082,0.122],[-0.055,0.086],
    [-0.007,0.125],[0.007,0.057],[-0.071,0.25],[-0.051,0.264],[-0.338,0.412],[-0.255,0.175],[-0.295,0.314],[-0.229,0.314]
];

// demarcation lines: y = a / (x - b) + c  (Kewley 2001, Kauffmann 2003); y = m x + k (Kewley 2006)
const kewley01Nii = { a: 0.61, b: 0.47, c: 1.19 };
const kauffmann03Nii = { a: 0.61, b: 0.05, c: 1.30 };
const kewley01Sii = { a: 0.72, b: 0.32, c: 1.30 };
const kewley06Sii = { m: 1.89, k: 0.76, from: -0.315, to: 0.09 };

const yTicks = [-1.0, -0.5, 0.0, 0.5, 1.0, 1.5];
const niiTicks = [-2.0, -1.5, -1.0, -0.5, 0.0, 0.5];
const siiTicks = [-1.5, -1.25, -1.0, -0.75, -0.5, -0.25, 0.0, 0.25, 0.5];

const legendNii = ['Kewley et al. (2001)', 'Kauffmann et al. (2003)', 'MCP-NSA, non-detection', 'MCP-NSA, detection', 'This work, non-detection'];
const legendSii = ['Kewley et al. (2001)', 'Kewley et al. (2006)', 'MCP-NSA, non-detection', 'MCP-NSA, detection', 'This work, non-detection'];

// ---- drawing ----
const colMcp = '#a8afe0';
const colDet = '#3a67c6';
const colThis = '#f28e2b';

const width = 731, height = 376;
const plotTop = 7, plotBottom = 334;

const svg = d3.select('#chart').append('svg')
    .attr('width', width)
    .attr('height', height);

const yScale = d3.scaleLinear().domain([-1, 1.9]).range([plotBottom, plotTop]);

function hyperbola(p, x0) {
    // sample the curve on the left branch, stop once it drops below the plot
    const pts = [];
    for (let x = x0; x < p.b; x += 0.004) {
        const y = p.a / (x - p.b) + p.c;
        pts.push([x, y]);
        if (y < -1.05) break;
    }
    return pts;
}

function drawPanel(cfg) {
    const x = d3.scaleLinear().domain(cfg.xDomain).range(cfg.xRange);
    const g = svg.append('g').attr('class', 'panel');

    svg.append('clipPath').attr('id', cfg.id + '-clip')
        .append('rect')
        .attr('x', cfg.xRange[0]).attr('y', plotTop)
        .attr('width', cfg.xRange[1] - cfg.xRange[0])
        .attr('height', plotBottom - plotTop);

    const plot = g.append('g').attr('clip-path', `url(#${cfg.id}-clip)`);

    plot.selectAll('.mcp')
        .data(cfg.mcp)
        .enter()
        .append('circle')
        .attr('cx', d => x(d[0]))
        .attr('cy', d => yScale(d[1]))
        .attr('r', 1.8)
        .attr('fill', 'none')
        .attr('stroke', colMcp)
        .attr('stroke-width', 0.7);

    plot.selectAll('.det')
        .data(cfg.det)
        .enter()
        .append('path')
        .attr('d', d3.symbol(d3.symbolTriangle, 24))
        .attr('transform', d => `translate(${x(d[0])},${yScale(d[1]) + 0.8})`)
        .attr('fill', colDet);

    plot.selectAll('.this')
        .data(cfg.thisWork)
        .enter()
        .append('circle')
        .attr('cx', d => x(d[0]))
        .attr('cy', d => yScale(d[1]))
        .attr('r', 2.7)
        .attr('fill', colThis);

    const line = d3.line().x(d => x(d[0])).y(d => yScale(d[1]));
    cfg.curves.forEach(c => {
        plot.append('path')
            .datum(c.points)
            .attr('fill', 'none')
            .attr('stroke', '#000')
            .attr('stroke-width', 1.1)
            .attr('stroke-dasharray', c.dashed ? '3,1.8' : null)
            .attr('d', line);
    });

    // axes
    const xAxis = g.append('g')
        .attr('transform', `translate(0,${plotBottom})`)
        .call(d3.axisBottom(x).tickValues(cfg.xTicks).tickSize(3.5).tickPadding(2.5).tickFormat(d3.format(cfg.xFormat)));
    const yAxis = g.append('g')
        .attr('transform', `translate(${cfg.xRange[0]},0)`)
        .call(d3.axisLeft(yScale).tickValues(yTicks).tickSize(3.5).tickPadding(3)
            .tickFormat(cfg.yLabels ? d3.format('.1f') : ''));

    [xAxis, yAxis].forEach(a => {
        a.select('.domain').remove();
        a.selectAll('line').attr('stroke', '#000').attr('stroke-width', 0.8);
        a.selectAll('text')
            .attr('fill', '#000')
            .style('font-family', '"DejaVu Serif", serif')
            .style('font-size', '10.6px');
    });

    g.append('rect')
        .attr('x', cfg.xRange[0]).attr('y', plotTop)
        .attr('width', cfg.xRange[1] - cfg.xRange[0])
        .attr('height', plotBottom - plotTop)
        .attr('fill', 'none')
        .attr('stroke', '#000')
        .attr('stroke-width', 0.8);

    g.append('text')
        .attr('x', (cfg.xRange[0] + cfg.xRange[1]) / 2)
        .attr('y', 361)
        .attr('text-anchor', 'middle')
        .style('font-size', '10.5px')
        .html(cfg.xLabel);

    drawLegend(cfg.xRange[0] + 3.5, plotTop + 4, cfg.legend);
}

function drawLegend(x0, y0, labels) {
    const lg = svg.append('g').attr('transform', `translate(${x0},${y0})`);
    const rowH = 12.1;

    lg.append('rect')
        .attr('width', 133)
        .attr('height', 62)
        .attr('rx', 2)
        .attr('fill', 'rgba(255,255,255,0.85)')
        .attr('stroke', '#d4d4d4')
        .attr('stroke-width', 0.8);

    labels.forEach((label, i) => {
        const cy = 6.3 + i * rowH;
        const row = lg.append('g');
        if (i < 2) {
            row.append('line')
                .attr('x1', 3).attr('x2', 20)
                .attr('y1', cy).attr('y2', cy)
                .attr('stroke', '#000')
                .attr('stroke-width', 1.1)
                .attr('stroke-dasharray', i === 1 ? '3,1.8' : null);
        } else if (i === 2) {
            row.append('circle').attr('cx', 11.5).attr('cy', cy).attr('r', 1.8)
                .attr('fill', 'none').attr('stroke', colMcp).attr('stroke-width', 0.7);
        } else if (i === 3) {
            row.append('path')
                .attr('d', d3.symbol(d3.symbolTriangle, 24))
                .attr('transform', `translate(11.5,${cy + 0.8})`)
                .attr('fill', colDet);
        } else {
            row.append('circle').attr('cx', 11.5).attr('cy', cy).attr('r', 2.7).attr('fill', colThis);
        }
        row.append('text')
            .attr('x', 26)
            .attr('y', cy + 3.1)
            .style('font-family', '"DejaVu Serif", serif')
            .style('font-size', '8.9px')
            .text(label);
    });
}

drawPanel({
    id: 'nii',
    xDomain: [-2.4, 0.82],
    xRange: [52, 380],
    xTicks: niiTicks,
    xFormat: '.1f',
    yLabels: true,
    mcp: niiMcp.concat(niiMcpCore),
    det: niiDet,
    thisWork: niiThis,
    curves: [
        { points: hyperbola(kewley01Nii, -2.4), dashed: false },
        { points: hyperbola(kauffmann03Nii, -2.4), dashed: true }
    ],
    xLabel: 'log([NII]<tspan font-style="italic">λ</tspan>6583 / H<tspan font-style="italic">α</tspan>)',
    legend: legendNii
});

drawPanel({
    id: 'sii',
    xDomain: [-1.7, 0.5],
    xRange: [380, 710],
    xTicks: siiTicks,
    xFormat: '.2f',
    yLabels: false,
    mcp: siiMcp.concat(siiMcpCore),
    det: siiDet,
    thisWork: siiThis,
    curves: [
        { points: hyperbola(kewley01Sii, -1.7), dashed: false },
        { points: [kewley06Sii.from, kewley06Sii.to].map(v => [v, kewley06Sii.m * v + kewley06Sii.k]), dashed: true }
    ],
    xLabel: 'log([SII]<tspan font-style="italic">λλ</tspan>6716,6731 / H<tspan font-style="italic">α</tspan>)',
    legend: legendSii
});

// shared y label
svg.append('text')
    .attr('transform', `translate(17,${(plotTop + plotBottom) / 2}) rotate(-90)`)
    .attr('text-anchor', 'middle')
    .style('font-size', '10.5px')
    .html('log([OIII]<tspan font-style="italic">λ</tspan>5007 / H<tspan font-style="italic">β</tspan>)');
</script>
</body>
</html>
